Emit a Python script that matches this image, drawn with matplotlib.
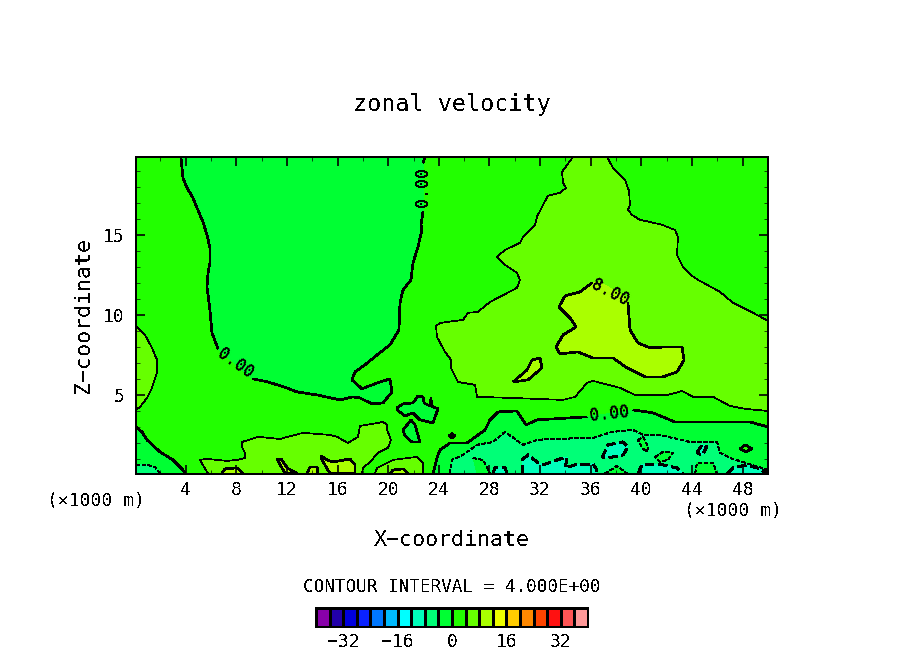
import matplotlib
matplotlib.use("Agg")
import matplotlib.pyplot as plt
from matplotlib.colors import BoundaryNorm, ListedColormap
import numpy as np

plt.rcParams["font.family"] = ["DejaVu Sans Mono"]
plt.rcParams["axes.unicode_minus"] = True
plt.rcParams["text.antialiased"] = False
plt.rcParams["lines.antialiased"] = False
plt.rcParams["patch.antialiased"] = False

W, H = 904, 654

# colour bands, 4 m/s apart from -40 to 40
level_edges = list(range(-40, 44, 4))
band_colors = [
    "#8800aa", "#2200aa", "#0000dd", "#0a22ff", "#0077ff",
    "#00bbff", "#00ffff", "#00ffbb", "#00ff77", "#00ff33",
    "#22ff00", "#66ff00", "#aaff00", "#eeff00", "#ffcc00",
    "#ff8800", "#ff4400", "#ff1111", "#ff5555", "#ff9999",
]
bar_ticks = [-32, -16, 0, 16, 32]
x_ticks = list(range(4, 52, 4))
z_ticks = [5, 10, 15]

# contour lines, (x, z) in 1000 m
zero_west_top = [(3.63, 19.88), (3.71, 19.19), (3.79, 18.56), (4.11, 17.94), (4.58, 17.31),
                 (4.90, 16.69), (5.37, 15.81), (5.69, 15.0), (5.92, 14.19), (5.92, 13.25),
                 (5.77, 12.63), (5.69, 11.75), (5.92, 10.31), (6.08, 8.88), (6.56, 7.88)]
zero_west_mid = [(9.32, 6.0), (10.51, 5.81), (11.77, 5.5), (12.80, 5.19), (14.38, 5.0),
                 (16.19, 4.69), (17.22, 4.88), (17.77, 4.81), (18.72, 4.44), (19.59, 4.5),
                 (20.30, 5.19), (20.14, 6.0), (19.12, 5.75), (17.93, 5.38), (17.14, 5.94),
                 (17.38, 6.44), (18.17, 6.88), (19.12, 7.5), (20.14, 8.13), (20.85, 9.06),
                 (20.93, 10.75), (21.17, 11.56), (21.80, 12.19), (21.96, 13.25), (22.35, 14.25),
                 (22.67, 15.31), (22.59, 15.63), (22.75, 16.44)]
zero_west_end = [(22.75, 19.5), (22.91, 19.88)]
zero_pocket = [(20.70, 4.19), (21.17, 4.44), (21.96, 4.5), (22.35, 4.94), (22.75, 4.88),
               (22.83, 4.5), (23.30, 4.31), (23.38, 4.81), (23.42, 4.31), (23.93, 4.13),
               (23.54, 3.25), (22.51, 3.44), (21.96, 3.88), (21.33, 3.69), (20.70, 4.06)]
zero_pocket2 = [(21.17, 2.81), (21.80, 3.44), (22.12, 3.13), (22.51, 2.06), (21.88, 2.06), (21.33, 2.44)]
zero_corner = [(0.08, 3.0), (0.55, 2.69), (0.95, 2.19), (1.97, 1.44), (3.0, 0.94), (3.79, 0.31), (3.95, 0.09)]
zero_east_a = [(23.54, 0.09), (23.85, 1.06), (24.09, 1.56), (24.88, 2.0), (26.22, 2.0), (27.65, 2.81),
               (28.04, 3.44), (28.67, 3.94), (30.17, 4.0), (30.88, 3.13), (31.75, 3.44), (35.70, 3.63)]
zero_east_b = [(39.34, 4.06), (40.92, 3.88), (42.65, 3.31), (45.42, 3.31), (48.58, 3.31), (50.0, 3.0)]
zero_tiny = [(24.8, 2.44), (25.04, 2.59), (25.27, 2.44), (25.04, 2.31)]
zero_island = [(47.79, 1.63), (48.19, 1.88), (48.74, 1.63), (48.27, 1.44)]

minus4_corner = [(0.08, 0.63), (0.95, 0.63), (1.58, 0.5), (1.97, 0.09)]
minus4_east = [(24.88, 0.09), (25.04, 0.94), (25.91, 1.25), (27.02, 1.88), (28.28, 2.06), (29.23, 2.69),
               (29.78, 2.38), (30.65, 1.88), (31.75, 2.19), (32.78, 2.25), (36.18, 2.31), (37.68, 2.69),
               (39.34, 2.81), (40.13, 2.5), (41.47, 2.5), (43.84, 2.06), (45.97, 2.06), (46.21, 1.38),
               (47.0, 1.06), (50.0, 0.31), (50.0, 0.09)]
minus4_hole_a = [(39.73, 2.19), (40.13, 2.38), (40.53, 1.75), (40.45, 1.44), (40.05, 1.69)]
minus4_hole_b = [(41.08, 1.13), (41.71, 1.44), (42.5, 1.38), (42.1, 0.94), (41.47, 0.81)]
minus4_hole_c = [(26.7, 1.06), (27.49, 0.94), (28.04, 0.09), (27.02, 0.09)]
minus4_hole_d = [(37.13, 0.09), (38.07, 0.56), (38.86, 0.09)]
minus4_hole_e = [(44.24, 0.09), (44.39, 0.75), (45.66, 0.75), (45.97, 0.09)]

minus8_a = [(30.57, 0.09), (30.57, 0.94), (31.05, 1.25), (31.75, 0.81), (32.23, 0.63), (33.81, 1.06),
            (34.13, 1.06), (33.97, 0.44), (34.76, 0.63), (36.18, 0.69), (36.49, 0.31), (36.49, 0.09)]
minus8_b = [(36.89, 1.06), (37.36, 1.88), (38.55, 2.06), (38.94, 1.75), (38.55, 1.25), (37.28, 1.06)]
minus8_c = [(39.73, 0.09), (40.05, 0.63), (41.71, 0.63), (42.81, 0.44), (43.29, 0.09)]
minus8_d = [(46.76, 0.09), (47.24, 0.44), (48.34, 0.63), (49.37, 0.38), (49.92, 0.09)]
minus8_e = [(44.39, 1.38), (44.79, 1.88), (45.18, 1.75), (44.79, 1.25)]
minus8_f = [(28.28, 0.09), (28.44, 0.44), (29.23, 0.44), (29.38, 0.09)]

four_west = [(0.16, 9.25), (0.79, 8.75), (1.34, 7.94), (1.74, 7.19), (1.74, 6.38), (1.34, 5.44),
             (0.95, 4.81), (0.39, 4.25), (0.08, 4.06)]
four_floor_a = [(5.77, 0.09), (5.13, 0.94), (5.69, 1.0), (7.27, 0.88), (8.06, 0.94), (8.69, 1.06),
                (8.69, 1.38), (8.45, 1.75), (8.45, 2.06), (9.72, 2.38), (11.45, 2.25), (13.27, 2.63),
                (15.40, 2.5), (15.96, 2.38), (16.82, 2.0), (17.61, 2.38), (17.77, 3.06), (19.59, 3.31),
                (19.91, 3.13), (19.91, 2.81), (20.22, 2.19), (19.98, 1.69), (19.20, 1.38), (18.56, 0.81),
                (18.01, 0.44), (17.93, 0.09)]
four_floor_b = [(18.96, 0.09), (19.12, 0.44), (20.38, 0.94), (22.28, 1.13), (22.75, 0.75), (22.75, 0.09)]
four_east = [(34.6, 19.88), (33.73, 18.94), (33.81, 18.25), (34.04, 17.94), (33.57, 17.63), (32.62, 17.44),
             (32.23, 16.88), (31.75, 16.13), (31.6, 15.63), (30.65, 14.88), (30.41, 14.5), (29.23, 14.06),
             (28.59, 13.63), (29.23, 13.13), (30.17, 12.63), (30.41, 12.19), (30.17, 11.69), (28.83, 11.13),
             (28.04, 10.81), (27.09, 10.19), (26.3, 10.13), (25.91, 9.69), (24.09, 9.5), (23.78, 9.31),
             (23.85, 8.63), (24.49, 7.69), (24.96, 7.19), (24.96, 6.69), (25.51, 5.81), (26.86, 5.63),
             (27.02, 4.88), (29.86, 4.81), (33.81, 4.69), (34.76, 4.88), (35.7, 5.75), (36.18, 5.88),
             (38.31, 5.44), (39.5, 5.0), (42.1, 5.0), (43.21, 5.25), (44.08, 4.88), (45.66, 4.88),
             (47.0, 4.31), (48.19, 4.13), (50.0, 4.0), (50.0, 9.63), (48.82, 10.13), (47.24, 10.75),
             (46.21, 11.44), (44.47, 12.19), (44.0, 12.44), (43.29, 13.0), (42.81, 13.75), (42.89, 14.88),
             (42.65, 15.31), (41.63, 15.63), (40.68, 15.81), (39.89, 15.94), (39.26, 16.25), (38.94, 16.56),
             (39.1, 16.88), (39.02, 17.75), (38.71, 18.44), (37.76, 19.19), (37.28, 19.88)]

eight_main = [(36.1, 12.0), (35.15, 11.44), (33.97, 11.19), (33.49, 10.5), (34.36, 9.81), (34.84, 9.25),
              (33.81, 8.75), (33.26, 8.0), (33.57, 7.56), (34.99, 7.69), (36.18, 7.31), (37.76, 7.31),
              (38.86, 6.69), (40.29, 6.13), (41.71, 6.13), (42.81, 6.44), (43.37, 7.19), (43.21, 8.0),
              (41.87, 8.0), (40.68, 7.94), (39.73, 8.25), (39.1, 9.06), (38.94, 10.75)]
eight_main_gap = [(38.86, 10.94), (38.07, 11.44), (36.81, 12.0)]
eight_loop = [(29.86, 5.81), (30.97, 6.56), (31.36, 7.19), (31.99, 7.31), (32.15, 6.69), (31.04, 5.94)]
eight_floor_a = [(6.87, 0.09), (7.11, 0.38), (8.06, 0.44), (8.53, 0.09)]
eight_floor_b = [(11.22, 1.0), (11.53, 1.0), (12.01, 0.44), (12.80, 0.09), (11.85, 0.09)]
eight_floor_c = [(13.59, 0.09), (13.82, 0.5), (14.38, 0.5), (14.46, 0.09)]
eight_floor_d = [(14.69, 1.19), (15.17, 0.94), (15.64, 0.81), (16.98, 1.0), (17.38, 0.63), (17.38, 0.09),
                 (15.40, 0.09), (14.77, 0.94)]
eight_floor_e = [(20.14, 0.09), (20.38, 0.31), (21.17, 0.38), (21.56, 0.09)]

# contour labels: text, x, z, rotation
contour_labels = [
    ("0.00", 7.9, 7.0, -35),
    ("0.00", 22.75, 18.0, 90),
    ("0.00", 37.5, 3.81, 6),
    ("8.00", 37.5, 11.38, -27),
]


def band_color(low):
    return band_colors[level_edges.index(low)]


def draw_line(ax, points, level, closed=False):
    pts = list(points) + [points[0]] if closed else points
    style = (0, (5, 3)) if level < 0 else "solid"
    lw = 1.2 if level % 8 == 0 else 0.5
    ax.plot([p[0] for p in pts], [p[1] for p in pts], color="black", lw=lw, ls=style,
            solid_capstyle="butt", dash_capstyle="butt", solid_joinstyle="round", zorder=3)


def draw_region(ax, segments, band, level, closed=False, fill_only=()):
    outline = [p for seg in segments for p in seg] + list(fill_only)
    ax.fill([p[0] for p in outline], [p[1] for p in outline], color=band_color(band), lw=0, zorder=1)
    for seg in segments:
        draw_line(ax, seg, level, closed)


def main():
    fig = plt.figure(figsize=(W / 100, H / 100), dpi=100)
    ax = fig.add_axes([136 / W, 1 - 473.5 / H, 632 / W, 317 / H])
    ax.set_xlim(0.08, 50.0)
    ax.set_ylim(0.09, 19.9)
    ax.set_facecolor(band_color(0))

    # order matters, inner bands are painted over outer ones
    draw_region(ax, [four_west], 4, 4)
    draw_region(ax, [four_floor_a], 4, 4)
    draw_region(ax, [four_floor_b], 4, 4)
    draw_region(ax, [four_east], 4, 4)
    draw_region(ax, [eight_main], 8, 8, fill_only=eight_main_gap)
    draw_region(ax, [eight_loop], 8, 8, closed=True)
    for floor in [eight_floor_a, eight_floor_c, eight_floor_e]:
        draw_region(ax, [floor], 8, 8)
    for floor in [eight_floor_b, eight_floor_d]:
        draw_region(ax, [floor], 8, 8, closed=True)

    draw_region(ax, [zero_west_top, zero_west_mid, zero_west_end], -4, 0)
    draw_region(ax, [zero_pocket], -4, 0, closed=True)
    draw_region(ax, [zero_pocket2], -4, 0, closed=True)
    draw_region(ax, [zero_corner], -4, 0, fill_only=[(0.08, 0.09)])
    draw_region(ax, [zero_tiny], -4, 0, closed=True)
    draw_region(ax, [zero_east_a, zero_east_b], -4, 0, fill_only=[(50.0, 0.09)])

    draw_region(ax, [minus4_corner], -8, -4, fill_only=[(0.08, 0.09)])
    draw_region(ax, [minus4_east], -8, -4)
    for hole in [minus4_hole_a, minus4_hole_b]:
        draw_region(ax, [hole], -4, -4, closed=True)
    for hole in [minus4_hole_c, minus4_hole_d, minus4_hole_e]:
        draw_region(ax, [hole], -4, -4)
    draw_region(ax, [zero_island], 0, 0, closed=True)

    for cell in [minus8_a, minus8_c, minus8_d, minus8_f]:
        draw_region(ax, [cell], -12, -8)
    for cell in [minus8_b, minus8_e]:
        draw_region(ax, [cell], -12, -8, closed=True)

    for text, x, z, rot in contour_labels:
        ax.text(x, z, text, rotation=rot, rotation_mode="anchor", ha="center", va="center",
                fontsize=12, fontweight="bold", color="black", zorder=4)

    ax.set_xticks(x_ticks)
    ax.set_xticks(list(range(2, 50, 4)), minor=True)
    ax.set_yticks(z_ticks)
    ax.set_yticks(list(range(1, 20)), minor=True)
    ax.tick_params(which="major", direction="in", length=6.5, width=1.2, top=True, right=True, labelsize=13)
    ax.tick_params(which="minor", direction="in", length=3, width=0.5, top=True, right=True)
    ax.tick_params(axis="x", which="major", pad=5.5)
    ax.tick_params(axis="y", which="major", pad=8)
    for spine in ax.spines.values():
        spine.set_linewidth(1.1)

    fig.text(452 / W, 1 - 104 / H, "zonal velocity", fontsize=16.8, ha="center", va="center")
    fig.text(452 / W, 1 - 540 / H, "X\u2212coordinate", fontsize=15.6, ha="center", va="center")
    fig.text(83 / W, 1 - 315 / H, "Z\u2212coordinate", fontsize=15.6, rotation=90, ha="center", va="center")
    fig.text(95.5 / W, 1 - 501 / H, "(\u00d71000 m)", fontsize=13, ha="center", va="center")
    fig.text(733 / W, 1 - 511 / H, "(\u00d71000 m)", fontsize=13, ha="center", va="center")
    fig.text(452 / W, 1 - 587 / H, "CONTOUR INTERVAL = 4.000E+00", fontsize=12.7, ha="center", va="center")

    # colour key under the plot
    cax = fig.add_axes([316 / W, 1 - 627 / H, 272 / W, 19 / H])
    edges = np.array(level_edges)
    mids = (edges[:-1] + edges[1:]) / 2
    cmap = ListedColormap(band_colors)
    norm = BoundaryNorm(level_edges, cmap.N)
    cax.pcolormesh(edges, [0, 1], mids[np.newaxis, :], cmap=cmap, norm=norm,
                   edgecolors="black", linewidth=1.0)
    cax.set_xlim(edges[0], edges[-1])
    cax.set_yticks([])
    cax.set_xticks(bar_ticks)
    cax.set_xticklabels([str(v).replace("-", "\u2212") for v in bar_ticks], fontsize=13)
    cax.tick_params(axis="x", length=0, pad=4.5)
    for spine in cax.spines.values():
        spine.set_linewidth(1.1)

    fig.savefig("out.png", dpi=100)
    plt.close(fig)


if __name__ == "__main__":
    main()
